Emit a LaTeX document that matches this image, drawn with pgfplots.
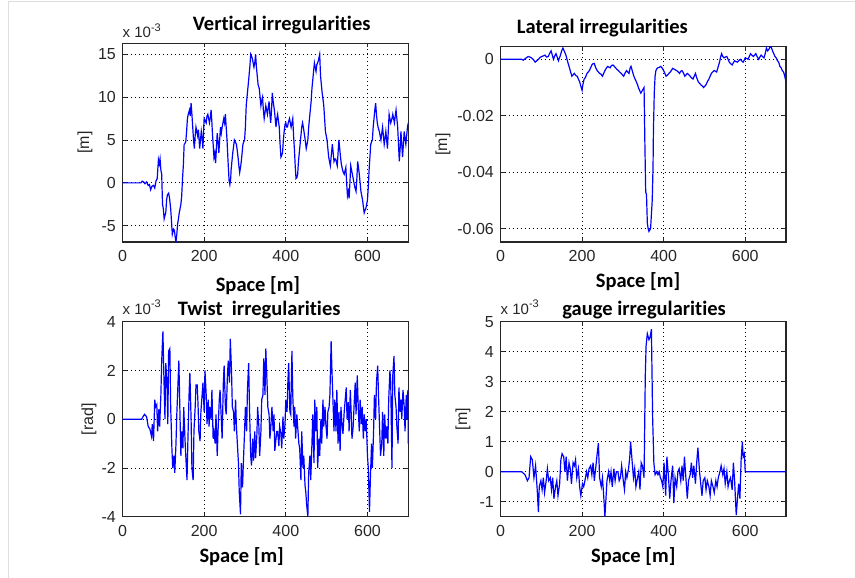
\documentclass[border=0pt]{standalone}
\usepackage{pgfplots}
\pgfplotsset{compat=1.18}
\usepackage{pgfplotstable}
\usepackage{fontspec}
\setmainfont{Liberation Sans}
\newfontfamily\calib[Ligatures={NoCommon}]{Carlito}

\pgfplotstableread{
x y
0 0
45 0
48 0.2
52 0.1
55 -0.1
59 0.1
63 -0.3
66 -0.2
69 -0.8
72 -0.4
76 -0.3
79 -0.6
82 0.2
85 0.5
88 2.7
90 2.2
92 2.8
94 1.5
96 1.0
98 -2.5
100 -3.0
102 -4.2
104 -3.8
106 -3.5
108 -2.0
110 -1.4
113 -1.2
115 -1.7
118 -3.0
120 -4.5
122 -6.0
125 -5.4
127 -5.5
129 -6.3
131 -6.9
133 -6.0
135 -4.8
137 -4.2
139 -3.5
141 -3.0
143 -2.5
145 -1.5
147 0.5
149 2.0
151 4.5
153 4.6
155 4.8
157 6.0
159 7.5
161 8.0
164 8.5
166 7.8
168 9.3
170 8.0
172 6.5
174 5.0
176 4.0
178 5.5
180 6.5
182 6.0
184 5.5
186 6.2
189 4.0
191 5.0
193 6.0
195 5.2
197 4.0
199 6.5
200 7.5
203 7.2
205 7.0
207 7.8
209 8.0
211 7.5
213 7.0
215 7.6
217 8.5
219 7.0
220 6.0
222 4.5
224 3.0
226 3.5
228 2.3
230 4.0
232 5.8
234 4.8
236 3.5
238 5.0
240 6.5
242 5.8
244 6.5
246 7.0
248 7.5
250 7.0
252 8.0
254 6.5
256 5.0
258 3.0
261 0.3
263 -0.2
265 0.5
266 1.5
268 2.5
270 3.5
272 4.2
274 5.0
276 4.8
279 4.5
281 3.8
283 3.0
285 2.0
287 1.2
289 1.8
291 2.5
293 3.5
295 4.5
297 4.8
299 5.0
301 6.5
303 9.0
305 10.0
307 11.0
309 12.0
312 13.6
314 15.0
316 14.8
318 14.5
320 14.0
322 13.5
324 14.0
326 15.0
328 13.5
330 12.5
332 11.5
335 11.0
337 10.0
339 9.0
341 9.6
343 10.0
345 8.5
347 7.5
349 8.2
351 9.0
353 8.5
355 8.0
357 8.8
359 9.5
361 8.0
363 7.0
365 8.5
367 10.5
369 9.5
372 8.5
374 7.5
376 6.5
378 7.5
380 8.0
382 7.2
384 6.5
386 4.5
388 3.0
390 3.2
392 3.5
394 5.0
396 6.0
398 6.8
400 7.0
402 6.5
404 6.5
406 7.0
409 7.5
411 7.0
413 6.5
415 7.0
417 7.5
419 5.5
421 4.0
423 2.0
425 0.5
427 0.6
429 1.0
431 2.5
433 3.5
435 4.5
437 5.5
439 6.5
441 7.0
443 6.5
446 5.5
448 4.8
450 4.0
452 4.5
454 5.0
456 6.5
458 7.5
460 8.5
462 9.5
464 11.0
466 12.0
468 13.0
470 14.0
472 13.5
474 13.0
476 13.8
478 14.0
480 14.3
483 15.0
485 12.5
487 11.5
489 10.5
491 9.8
493 9.0
495 7.5
497 6.0
499 5.5
501 5.0
503 4.0
505 3.0
507 2.5
509 2.0
511 3.0
514 4.5
516 3.5
518 2.5
520 2.8
522 2.8
524 2.4
526 2.0
528 3.5
530 5.0
532 4.0
534 3.0
536 2.2
539 1.5
541 1.2
543 1.0
545 1.4
547 1.8
549 0.0
551 -1.5
553 -1.0
555 -1.8
557 0.0
559 2.0
561 1.5
563 1.0
565 0.5
567 0.0
569 -0.5
572 -1.0
574 0.5
576 2.5
578 1.8
580 1.0
582 0.0
584 -1.0
586 -1.5
588 -2.0
590 -2.8
592 -3.5
594 -3.2
596 -3.0
598 -2.5
600 -2.0
602 -0.5
604 1.5
606 3.0
608 4.5
610 4.8
612 5.0
614 6.5
616 7.5
618 8.5
620 9.3
622 8.0
624 7.0
626 6.5
629 6.0
631 5.5
633 5.0
635 5.8
637 6.5
639 5.5
641 4.5
643 5.2
645 6.0
647 5.0
649 4.0
651 6.0
653 8.0
655 7.5
657 7.0
660 7.5
662 8.0
664 7.5
666 7.0
668 7.8
670 8.5
672 7.5
674 6.5
676 4.5
678 2.5
680 4.0
682 6.0
684 4.5
686 3.0
688 4.5
690 6.0
692 5.2
694 4.5
696 5.5
698 6.5
700 7.0
}\vertical

\pgfplotstableread{
x y
0 0
52 0
56 -0.0003
60 0.0002
64 0.0006
68 0.0010
72 0.0008
76 0.0005
80 0.0
85 -0.001
89 -0.0005
93 0.0
97 0.0007
101 0.001
105 0.0012
109 0.0015
113 0.0008
117 0.001
121 0.0022
124 0.003
127 0.0015
130 0.0
133 0.0012
136 0.002
139 0.0008
142 -0.0005
144 0.0004
146 0.001
150 0.003
153 0.004
156 0.003
159 0.002
161 0.0012
163 0.0
166 -0.0015
169 -0.003
172 -0.0045
175 -0.006
178 -0.0055
181 -0.005
185 -0.0058
188 -0.006
191 -0.007
194 -0.008
197 -0.0095
200 -0.011
202 -0.009
205 -0.007
208 -0.0065
212 -0.005
215 -0.0045
218 -0.004
221 -0.003
224 -0.002
227 -0.0015
230 -0.0015
233 -0.0028
237 -0.004
240 -0.0045
243 -0.005
246 -0.0052
250 -0.006
253 -0.005
256 -0.004
260 -0.003
263 -0.0025
266 -0.0028
269 -0.003
272 -0.0022
276 -0.002
279 -0.0025
282 -0.003
285 -0.0035
289 -0.004
292 -0.0045
296 -0.005
299 -0.0055
302 -0.006
305 -0.005
309 -0.004
312 -0.0045
315 -0.005
318 -0.003
320 -0.0025
323 -0.004
327 -0.006
330 -0.007
333 -0.008
336 -0.009
338 -0.010
341 -0.011
344 -0.012
346 -0.0115
348 -0.011
350 -0.0105
352 -0.010
354 -0.030
356 -0.047
358 -0.048
360 -0.058
362 -0.060
364 -0.061
366 -0.0605
368 -0.060
370 -0.055
372 -0.050
374 -0.038
375 -0.025
377 -0.012
379 -0.006
381 -0.004
384 -0.0032
386 -0.003
390 -0.0028
393 -0.0025
396 -0.003
400 -0.004
403 -0.005
406 -0.006
410 -0.0055
413 -0.005
416 -0.0045
419 -0.004
422 -0.0032
426 -0.0035
429 -0.0038
432 -0.004
436 -0.0045
439 -0.005
442 -0.0042
445 -0.004
449 -0.005
452 -0.006
455 -0.0055
458 -0.005
462 -0.0055
465 -0.006
468 -0.0065
472 -0.007
475 -0.006
478 -0.005
481 -0.0065
485 -0.008
488 -0.0085
491 -0.009
495 -0.0095
498 -0.010
501 -0.0095
504 -0.009
507 -0.008
511 -0.007
514 -0.006
517 -0.005
520 -0.0045
524 -0.004
527 -0.0042
530 -0.0045
533 -0.003
537 -0.001
540 0.001
542 0.002
545 0.001
548 0.0005
551 0.0008
555 0.001
558 0.0
561 -0.001
564 -0.0015
568 -0.002
571 -0.0012
574 -0.0005
577 -0.0008
581 -0.001
584 -0.0005
588 0.0
591 -0.0005
595 -0.001
598 -0.0002
600 0.0005
604 0.0003
607 0.0
610 0.001
613 0.002
616 0.0015
620 0.001
623 0.0015
626 0.002
629 0.001
633 0.0
636 0.0008
639 0.0015
642 0.001
646 0.0005
649 0.002
652 0.004
655 0.003
658 0.0035
661 0.0045
664 0.0042
667 0.003
670 0.002
673 0.001
676 0.0005
679 -0.0005
682 -0.001
685 -0.0025
688 -0.003
691 -0.004
694 -0.0045
697 -0.006
700 -0.008
}\lateral

\pgfplotstableread{
x y
0 0
47 0
50 0.1
54 0.2
59 0.1
63 -0.3
67 -0.4
71 -0.7
73 -0.2
76 -0.9
79 0.8
81 0.5
84 0.6
86 -0.5
89 0.4
91 -0.3
94 1.0
96 2.4
99 3.6
101 2.0
104 0.0
106 2.3
109 1.5
111 -0.2
113 2.8
116 2.9
118 0.5
121 -1.2
123 -2.0
126 -1.5
128 -2.2
131 -1.0
133 0.2
136 1.5
138 2.4
140 0.8
143 -1.5
145 -0.5
148 -1.2
150 0.5
153 -0.8
155 -1.5
158 -2.5
160 -1.0
163 1.0
165 1.9
168 0.0
170 -2.0
173 -2.5
175 -0.5
178 0.5
180 1.4
183 1.4
185 0.6
187 -0.5
190 -0.9
192 0.3
195 1.0
197 1.5
200 0.3
202 2.0
205 1.0
207 -0.2
210 0.8
212 -0.3
214 0.5
217 0.0
219 1.2
222 -0.8
224 -0.5
227 -1.0
229 0.2
232 -1.5
234 -0.5
237 0.8
239 1.2
242 0.0
244 -0.8
247 1.5
249 2.2
252 0.5
254 0.2
257 1.8
259 2.4
262 1.5
264 3.3
267 2.0
269 0.5
272 0.3
274 -0.5
277 0.8
279 -0.3
281 -0.9
284 -1.8
286 -3.0
289 -3.9
291 -1.8
294 -2.8
296 -1.8
299 -0.5
301 0.5
304 -0.5
306 1.2
309 2.3
311 0.5
314 -1.5
316 -1.9
319 -0.8
321 -1.7
324 -0.5
326 -1.6
329 -0.7
331 0.5
334 -0.3
336 -1.5
339 -0.5
341 0.8
344 1.0
346 2.5
349 1.0
351 2.9
354 1.5
356 0.5
359 0.2
361 -0.8
363 -0.4
366 0.5
369 -0.5
371 0.2
373 -1.3
376 -0.8
378 -0.5
380 -0.5
383 -1.1
385 -0.3
388 -0.6
390 -1.2
393 0.1
395 -0.8
398 -0.2
400 0.8
403 0.3
405 1.5
407 2.3
410 0.3
412 0.2
415 2.8
417 1.0
420 -0.3
422 0.5
424 -0.8
427 0.2
429 -0.3
432 -1.0
434 -1.2
437 -2.5
439 -0.5
442 -2.0
444 -1.5
447 -2.7
449 -3.0
451 -3.5
454 -4.0
456 -2.2
459 -1.5
461 -2.5
464 -1.0
466 0.2
469 -1.8
471 0.8
473 -0.5
476 0.5
478 -2.0
481 -0.8
483 -1.5
486 0.0
488 -1.0
491 0.8
493 -0.3
496 0.5
498 -0.2
501 -0.8
503 0.3
506 0.5
508 1.0
511 3.2
513 2.0
516 0.5
518 -0.5
520 0.8
523 -0.5
525 1.2
528 -1.0
530 0.3
533 -1.3
535 0.5
538 -0.3
540 -0.6
543 0.3
545 0.7
548 1.3
550 0.0
553 0.7
555 -0.5
558 1.2
560 0.3
562 -0.8
565 -0.3
567 0.5
570 1.5
572 0.2
575 1.8
578 0.2
580 -0.5
582 0.8
585 -0.2
587 0.5
590 -0.8
592 0.2
595 -0.5
597 0.0
600 -1.5
602 -2.0
605 -3.8
607 -2.5
610 -1.0
612 -2.0
615 -0.5
617 1.0
620 0.0
622 1.5
625 2.2
627 1.0
630 -0.5
632 -1.5
635 -1.0
637 0.3
640 -1.5
642 0.2
645 -0.8
647 -0.3
650 -1.0
652 0.8
655 2.0
657 1.5
660 -2.0
662 1.8
665 2.6
667 1.0
670 0.5
672 -0.3
675 -1.0
677 1.3
680 0.3
682 0.8
684 0.0
687 1.2
690 0.5
692 -0.5
695 1.0
697 0.0
699 1.2
700 -1.0
}\twist

\pgfplotstableread{
x y
0 0
48 0
52 0.0
60 -0.1
66 -0.3
70 -0.2
74 0.5
78 0.4
82 -0.2
86 0.2
90 -0.6
93 -1.35
95 -0.5
99 -0.3
102 -0.6
105 -0.2
108 -0.7
112 -0.3
115 0.1
118 -0.3
122 -0.2
125 -0.6
128 -0.2
131 -0.9
135 -0.5
138 -0.3
141 -0.8
145 -0.4
148 0.4
151 0.6
155 0.5
158 0.0
161 0.5
164 -0.3
168 0.3
171 0.1
174 -0.4
178 0.3
181 0.2
184 0.4
187 -0.2
191 0.1
194 -0.5
197 -0.8
201 -0.4
204 -0.5
207 -0.3
211 0.0
214 -0.2
217 0.1
221 0.2
224 -0.1
227 0.3
230 -0.3
234 0.2
237 0.6
240 0.95
243 -0.2
247 -0.5
250 -0.2
253 -0.8
256 -1.5
259 -0.8
261 -0.3
265 0.0
268 -0.3
271 0.0
274 -0.5
278 0.1
281 -0.3
284 0.0
288 0.0
291 -0.3
294 -0.2
297 0.2
301 -0.3
304 -0.6
307 0.0
310 -0.2
314 0.1
317 0.5
319 1.0
323 0.3
326 -0.2
329 0.1
332 -0.5
336 -0.2
339 0.0
342 -0.6
345 0.3
348 0.2
352 -0.2
355 3.2
357 4.2
360 4.6
364 4.4
367 4.5
370 4.75
373 1.8
376 0.3
379 -0.1
383 0.0
386 -0.1
389 0.0
392 -0.2
395 -0.3
398 -0.5
401 0.3
405 -0.8
408 0.5
412 -0.2
415 -0.9
418 -0.3
422 0.2
425 -1.05
428 -0.2
432 -0.5
435 0.0
438 0.1
442 -0.3
445 0.2
448 -0.3
451 0.5
455 -0.3
458 -0.9
461 -0.3
465 -0.1
468 0.3
471 -0.2
474 0.2
478 -0.4
481 0.3
484 0.8
488 0.0
491 -0.4
494 -0.8
497 -0.3
501 -0.2
504 -0.6
507 -0.3
511 -0.5
514 -0.8
517 -0.3
521 -0.5
524 -0.7
528 -0.3
531 -0.5
534 -0.2
538 0.0
541 0.2
545 -0.1
548 0.1
551 -0.4
555 0.0
558 -0.5
561 -0.3
564 -0.2
568 -0.6
571 0.3
574 -0.3
578 -1.45
581 -0.9
584 -0.4
587 -0.9
590 0.4
593 1.0
595 0.5
598 0.6
600 0.0
700 0
}\gauge

\pgfplotsset{
  myax/.style={
    scale only axis, anchor=south west, clip mode=individual, no markers,
    xmin=0, xmax=700, xtick={0,200,400,600}, xticklabels={0,200,400,600},
    scaled x ticks=false, scaled y ticks=false,
    grid=major,
    major grid style={black, line width=0.8pt, dash pattern=on 0.8pt off 3.2pt},
    axis line style={black!85, line width=1.1pt},
    tick align=inside, major tick length=4pt,
    tick style={black!85, line width=0.8pt},
    ticklabel style={font=\fontsize{16}{16}\selectfont, text=black!85},
    xticklabel style={inner sep=0pt, anchor=north, yshift=-8pt},
    yticklabel style={inner sep=0pt, anchor=east, xshift=-6.5pt},
  },
  dat/.style={color=blue, line width=1.2pt, mark=none, line join=miter},
  ttl/.style 2 args={every axis title/.style={at={(#1,1)}, anchor=base, yshift=#2,
      font=\calib\bfseries\fontsize{20.5}{20.5}\selectfont}},
  xlab/.style 2 args={every axis x label/.style={at={(#1,0)}, anchor=base, yshift=#2,
      font=\calib\bfseries\fontsize{20.5}{20.5}\selectfont}},
  ylab/.style={every axis y label/.style={at={(#1,0.5)}, anchor=center, rotate=90,
      font=\fontsize{16}{16}\selectfont, text=black!85}},
}
\newcommand{\mult}[1]{\node[anchor=base west, inner sep=0pt, yshift=#1,
  font=\fontsize{15}{15}\selectfont, text=black!85] at (rel axis cs:0,1)
  {x 10\raisebox{0.42em}{\fontsize{11}{11}\selectfont -3}};}

\begin{document}
\begin{tikzpicture}[x=1pt,y=1pt]
\path[use as bounding box] (0,0) rectangle (855,-578);
\draw[black!13, line width=1pt] (8.3,-578) -- (8.3,-1.7) -- (855,-1.7);

% Vertical
\begin{axis}[myax, at={(122.5pt,-242pt)}, width=285.8pt, height=198.7pt,
  ymin=-6.9, ymax=16.28, ytick={-5,0,5,10,15}, yticklabels={-5,0,5,10,15},
  title={Vertical irregularities}, ttl={0.557}{12.6pt},
  xlabel={Space [m]}, xlab={0.474}{-49pt},
  ylabel={[m]}, ylab={-0.131}]
\addplot[dat] table[x=x,y=y] {\vertical};
\mult{5.3pt}
\end{axis}

% Lateral
\begin{axis}[myax, at={(500.5pt,-242pt)}, width=285.5pt, height=195.3pt,
  ymin=-0.06476, ymax=0.00447, ytick={-0.06,-0.04,-0.02,0},
  yticklabels={-0.06,-0.04,-0.02,0},
  title={Lateral irregularities}, ttl={0.357}{12.7pt},
  xlabel={Space [m]}, xlab={0.4816}{-45.3pt},
  ylabel={[m]}, ylab={-0.2014}]
\addplot[dat] table[x=x,y=y] {\lateral};
\end{axis}

% Twist
\begin{axis}[myax, at={(122.5pt,-516.7pt)}, width=285.8pt, height=195pt,
  ymin=-4, ymax=4, ytick={-4,-2,0,2,4}, yticklabels={-4,-2,0,2,4},
  title={Twist\ \ irregularities}, ttl={0.478}{6.7pt},
  xlabel={Space [m]}, xlab={0.417}{-46pt},
  ylabel={[rad]}, ylab={-0.1172}]
\addplot[dat] table[x=x,y=y] {\twist};
\mult{7.7pt}
\end{axis}

% Gauge
\begin{axis}[myax, at={(500.5pt,-516.7pt)}, width=285.5pt, height=195pt,
  ymin=-1.5, ymax=5, ytick={-1,0,1,2,3,4,5}, yticklabels={-1,0,1,2,3,4,5},
  title={gauge irregularities}, ttl={0.503}{6.7pt},
  xlabel={Space [m]}, xlab={0.465}{-46pt},
  ylabel={[m]}, ylab={-0.1313}]
\addplot[dat] table[x=x,y=y] {\gauge};
\mult{7.7pt}
\end{axis}
\end{tikzpicture}
\end{document}
